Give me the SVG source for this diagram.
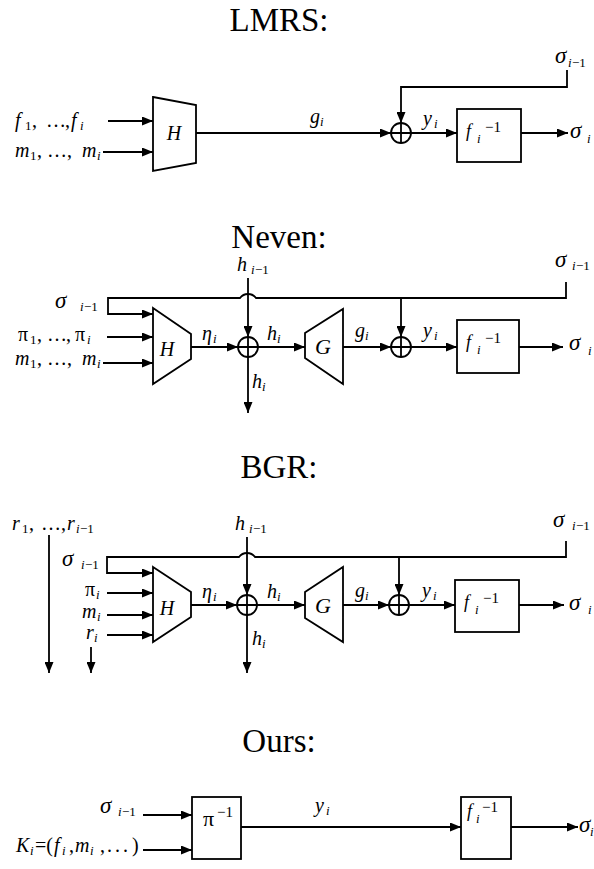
<svg xmlns="http://www.w3.org/2000/svg" width="594" height="869" viewBox="0 0 594 869">
<defs>
<style>
.ln{stroke:#000;stroke-width:1.8;fill:none}
.ar{marker-end:url(#ah)}
.nd{stroke:#000;stroke-width:1.8;fill:#fff}
text{font-family:"Liberation Serif","Times New Roman",serif;fill:#000}
.it{font-style:italic}
.rm{font-style:normal}
.ttl{font-size:33px;text-anchor:middle}
.lb{font-size:20px}
.sb{font-size:13px}
.sg{font-size:23px}
.fl{font-size:18px}
.m1{font-size:15px}
</style>
<marker id="ah" markerUnits="userSpaceOnUse" markerWidth="11" markerHeight="9" refX="11" refY="4.5" orient="auto"><path d="M0,0L11,4.5L0,9z" fill="#000"/></marker>
<g id="xor"><circle r="10" fill="#fff" stroke="#000" stroke-width="1.8"/><path d="M-10,0H10M0,-10V10" stroke="#000" stroke-width="1.8"/></g>
<g id="finv"><text class="it fl" x="9" y="28">f</text><text class="it sb" x="20" y="34">i</text><text class="m1" x="28" y="23">−1</text></g>
</defs>

<!-- ===== LMRS ===== -->
<text class="ttl" x="279" y="31">LMRS:</text>
<g id="lmrs-connectors">
<path class="ln ar" d="M108,121H153"/>
<path class="ln ar" d="M103,152H153"/>
<path class="ln ar" d="M196,133H391"/>
<path class="ln ar" d="M567,70V87H401V123"/>
<path class="ln ar" d="M411,133H457"/>
<path class="ln ar" d="M521,133H568"/>
</g>
<g id="lmrs-H"><polygon class="nd" points="153,97 196,105 196,163 153,171"/><text class="it lb" x="174" y="140" text-anchor="middle" style="font-size:20px">H</text></g>
<g id="lmrs-xor"><use href="#xor" x="401" y="133"/></g>
<g id="lmrs-finv"><rect class="nd" x="457" y="109" width="64" height="53"/><use href="#finv" x="457" y="109"/></g>
<g id="lmrs-labels">
<text class="lb" y="127"><tspan class="it" x="15">f</tspan><tspan class="sb" x="25" y="130">1</tspan><tspan x="32" y="127">,</tspan><tspan x="46">…</tspan><tspan x="65">,</tspan><tspan class="it" x="71">f</tspan><tspan class="it sb" x="80" y="130">i</tspan></text>
<text class="lb" y="157"><tspan class="it" x="15">m</tspan><tspan class="sb" x="30" y="160">1</tspan><tspan x="37" y="157">,</tspan><tspan x="47">…</tspan><tspan x="67">,</tspan><tspan class="it" x="82">m</tspan><tspan class="it sb" x="97" y="160">i</tspan></text>
<text class="it lb" x="310" y="123">g<tspan class="sb" x="320" y="126">i</tspan></text>
<text class="it lb" x="423" y="125">y<tspan class="sb" x="434" y="128">i</tspan></text>
<text class="it sg" x="555" y="63">σ</text><text class="it sb" x="568" y="67">i</text><text class="sb" x="572" y="67">−1</text>
<text class="it sg" x="570" y="138">σ</text><text class="it sb" x="587" y="143">i</text>
</g>

<!-- ===== Neven ===== -->
<text class="ttl" x="279" y="248">Neven:</text>
<g id="neven-connectors">
<path class="ln ar" d="M566,282V298H256A10,10 0 0 0 240,298H108V314H153"/>
<path class="ln ar" d="M107,337H153"/>
<path class="ln ar" d="M103,363H153"/>
<path class="ln ar" d="M248,278V337"/>
<path class="ln ar" d="M191,347H238"/>
<path class="ln ar" d="M258,347H305"/>
<path class="ln ar" d="M248,357V413"/>
<path class="ln ar" d="M343,347H391"/>
<path class="ln ar" d="M401,298V337"/>
<path class="ln ar" d="M411,347H457"/>
<path class="ln ar" d="M519,347H563"/>
</g>
<g id="neven-H"><polygon class="nd" points="153,308 191,334 191,359 153,384"/><text class="it lb" x="167" y="356" text-anchor="middle" style="font-size:20px">H</text></g>
<g id="neven-xor1"><use href="#xor" x="248" y="347"/></g>
<g id="neven-G"><polygon class="nd" points="305,333 343,309 343,384 305,358"/><text class="it lb" x="323" y="354" text-anchor="middle" style="font-size:22px">G</text></g>
<g id="neven-xor2"><use href="#xor" x="401" y="347"/></g>
<g id="neven-finv"><rect class="nd" x="457" y="320" width="62" height="53"/><use href="#finv" x="457" y="320"/></g>
<g id="neven-labels">
<text class="it lb" x="237" y="271">h<tspan class="sb" x="251" y="274">i</tspan><tspan class="sb rm" x="255" y="274">−1</tspan></text>
<text class="it sg" x="55" y="308">σ</text><text class="it sb" x="80" y="311">i</text><text class="sb" x="84" y="311">−1</text>
<text class="lb" y="341"><tspan x="18">π</tspan><tspan class="sb" x="30" y="344">1</tspan><tspan x="37" y="341">,</tspan><tspan x="47">…</tspan><tspan x="66">,</tspan><tspan x="75">π</tspan><tspan class="it sb" x="87" y="344">i</tspan></text>
<text class="lb" y="365"><tspan class="it" x="15">m</tspan><tspan class="sb" x="30" y="368">1</tspan><tspan x="37" y="365">,</tspan><tspan x="47">…</tspan><tspan x="67">,</tspan><tspan class="it" x="82">m</tspan><tspan class="it sb" x="97" y="368">i</tspan></text>
<text class="it lb" x="202" y="340">η<tspan class="sb" x="213" y="343">i</tspan></text>
<text class="it lb" x="267" y="340">h<tspan class="sb" x="277" y="343">i</tspan></text>
<text class="it lb" x="252" y="388">h<tspan class="sb" x="262" y="391">i</tspan></text>
<text class="it lb" x="355" y="337">g<tspan class="sb" x="365" y="340">i</tspan></text>
<text class="it lb" x="423" y="337">y<tspan class="sb" x="434" y="340">i</tspan></text>
<text class="it sg" x="555" y="267">σ</text><text class="it sb" x="572" y="270">i</text><text class="sb" x="576" y="270">−1</text>
<text class="it sg" x="569" y="350">σ</text><text class="it sb" x="588" y="355">i</text>
</g>

<!-- ===== BGR ===== -->
<text class="ttl" x="279" y="478">BGR:</text>
<g id="bgr-connectors">
<path class="ln ar" d="M566,541V557H255A10,10 0 0 0 239,557H107V573H153"/>
<path class="ln ar" d="M107,593H153"/>
<path class="ln ar" d="M107,615H153"/>
<path class="ln ar" d="M107,635H153"/>
<path class="ln ar" d="M49,535V673"/>
<path class="ln ar" d="M91,647V673"/>
<path class="ln ar" d="M247,537V595"/>
<path class="ln ar" d="M191,605H237"/>
<path class="ln ar" d="M257,605H305"/>
<path class="ln ar" d="M247,615V673"/>
<path class="ln ar" d="M343,605H389"/>
<path class="ln ar" d="M399,557V595"/>
<path class="ln ar" d="M409,605H455"/>
<path class="ln ar" d="M519,605H564"/>
</g>
<g id="bgr-H"><polygon class="nd" points="153,567 191,592 191,617 153,642"/><text class="it lb" x="167" y="615" text-anchor="middle" style="font-size:20px">H</text></g>
<g id="bgr-xor1"><use href="#xor" x="247" y="605"/></g>
<g id="bgr-G"><polygon class="nd" points="305,592 343,567 343,642 305,618"/><text class="it lb" x="323" y="613" text-anchor="middle" style="font-size:22px">G</text></g>
<g id="bgr-xor2"><use href="#xor" x="399" y="605"/></g>
<g id="bgr-finv"><rect class="nd" x="455" y="580" width="64" height="52"/><use href="#finv" x="455" y="580"/></g>
<g id="bgr-labels">
<text class="lb" y="530"><tspan class="it" x="12">r</tspan><tspan class="sb" x="22" y="533">1</tspan><tspan x="29" y="530">,</tspan><tspan x="41">…</tspan><tspan x="61">,</tspan><tspan class="it" x="67">r</tspan><tspan class="it sb" x="76" y="533">i</tspan><tspan class="sb" x="80" y="533">−1</tspan></text>
<text class="it lb" x="235" y="530">h<tspan class="sb" x="249" y="533">i</tspan><tspan class="sb rm" x="253" y="533">−1</tspan></text>
<text class="it sg" x="62" y="566">σ</text><text class="it sb" x="81" y="569">i</text><text class="sb" x="85" y="569">−1</text>
<text class="lb" y="596"><tspan x="85">π</tspan><tspan class="it sb" x="96" y="599">i</tspan></text>
<text class="it lb" x="82" y="618">m<tspan class="sb" x="97" y="621">i</tspan></text>
<text class="it lb" x="86" y="639">r<tspan class="sb" x="94" y="642">i</tspan></text>
<text class="it lb" x="202" y="598">η<tspan class="sb" x="213" y="601">i</tspan></text>
<text class="it lb" x="267" y="598">h<tspan class="sb" x="277" y="601">i</tspan></text>
<text class="it lb" x="252" y="645">h<tspan class="sb" x="262" y="648">i</tspan></text>
<text class="it lb" x="355" y="597">g<tspan class="sb" x="365" y="600">i</tspan></text>
<text class="it lb" x="422" y="597">y<tspan class="sb" x="433" y="600">i</tspan></text>
<text class="it sg" x="553" y="527">σ</text><text class="it sb" x="572" y="530">i</text><text class="sb" x="576" y="530">−1</text>
<text class="it sg" x="569" y="610">σ</text><text class="it sb" x="588" y="614">i</text>
</g>

<!-- ===== Ours ===== -->
<text class="ttl" x="279" y="752">Ours:</text>
<g id="ours-connectors">
<path class="ln ar" d="M143,815H192"/>
<path class="ln ar" d="M143,850H192"/>
<path class="ln ar" d="M241,827H461"/>
<path class="ln ar" d="M511,827H578"/>
</g>
<g id="ours-pinv"><rect class="nd" x="192" y="797" width="49" height="62"/><text x="203" y="826" style="font-size:22px">π</text><text class="m1" x="217" y="817">−1</text></g>
<g id="ours-finv"><rect class="nd" x="461" y="797" width="50" height="62"/><text class="it fl" x="467" y="817">f</text><text class="it sb" x="476" y="823">i</text><text class="m1" x="482" y="812">−1</text></g>
<g id="ours-labels">
<text class="it sg" x="100" y="813">σ</text><text class="it sb" x="118" y="816">i</text><text class="sb" x="122" y="816">−1</text>
<text class="lb" y="852"><tspan class="it" x="16">K</tspan><tspan class="it sb" x="30" y="855">i</tspan><tspan x="35" y="852">=(</tspan><tspan class="it" x="54">f</tspan><tspan class="it sb" x="62" y="855">i</tspan><tspan x="69" y="852">,</tspan><tspan class="it" x="75">m</tspan><tspan class="it sb" x="90" y="855">i</tspan><tspan x="100" y="852">,</tspan><tspan x="107" letter-spacing="3">...</tspan><tspan x="132">)</tspan></text>
<text class="it lb" x="315" y="812">y<tspan class="sb" x="326" y="815">i</tspan></text>
<text class="it sg" x="579" y="832">σ</text><text class="it sb" x="590" y="836">i</text>
</g>
</svg>
